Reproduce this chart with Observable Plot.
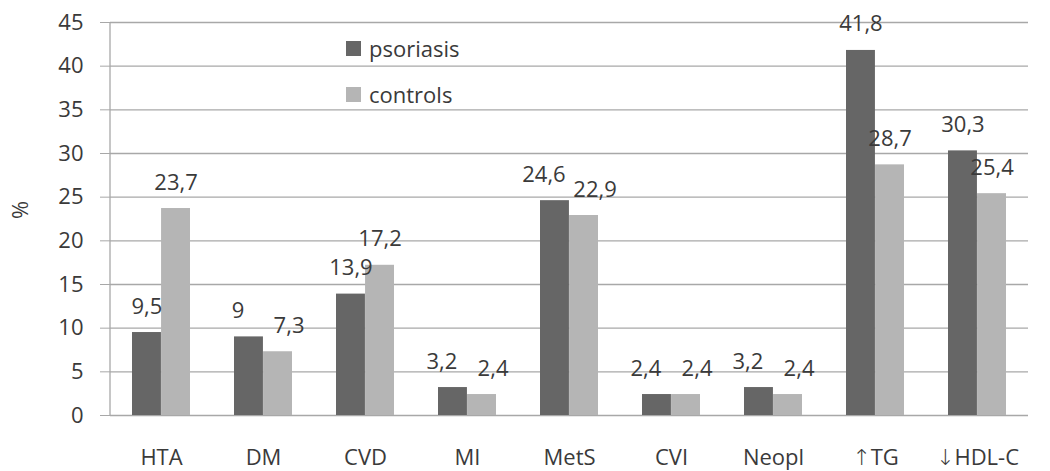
<!DOCTYPE html>
<html>
<head>
<meta charset="utf-8">
<script src="https://cdn.jsdelivr.net/npm/d3@7"></script>
<script src="https://cdn.jsdelivr.net/npm/@observablehq/plot@0.6"></script>
<style>
  html, body { margin: 0; padding: 0; background: #fff; }
  #wrap { position: relative; width: 1050px; height: 471px; font-family: "Open Sans", "Noto Sans", sans-serif; }
  .legend { position: absolute; left: 346px; top: 35px; font-size: 22px; color: #3a3a3a; }
  .legend .row { display: flex; align-items: center; height: 26px; }
  .legend .row + .row { margin-top: 20px; }
  .legend .sw { width: 15px; height: 15px; margin-right: 8px; display: inline-block; }
</style>
</head>
<body>
<div id="wrap"></div>
<script>
const categories = ["HTA", "DM", "CVD", "MI", "MetS", "CVI", "Neopl", "\u2191TG", "\u2193HDL-C"];
const psoriasis = [9.5, 9, 13.9, 3.2, 24.6, 2.4, 3.2, 41.8, 30.3];
const controls  = [23.7, 7.3, 17.2, 2.4, 22.9, 2.4, 2.4, 28.7, 25.4];
const seriesNames = ["psoriasis", "controls"];
const seriesColors = ["#666666", "#b5b5b5"];
const yTicks = [0, 5, 10, 15, 20, 25, 30, 35, 40, 45];
const yLabel = "%";

// label collision: two labels of a category at similar heights are pushed apart
const closeThreshold = 3;
const rowsP = categories.map((c, i) => ({cat: c, value: psoriasis[i], close: Math.abs(psoriasis[i] - controls[i]) < closeThreshold}));
const rowsC = categories.map((c, i) => ({cat: c, value: controls[i], close: Math.abs(psoriasis[i] - controls[i]) < closeThreshold}));
const fmt = v => String(v).replace(".", ",");

const textColor = "#3a3a3a";
const gridColor = "#a8a8a8";
const FS = 22;
const W = 1050, H = 471, mL = 110, mR = 22, mT = 22, mB = 56;
const step = (W - mL - mR) / categories.length;
const padIn = 0.43;
const half = step * (1 - padIn) / 2;
const push = 11;

const labelOpts = (side, isClose) => ({
  x: "cat", y: "value", text: d => fmt(d.value),
  filter: d => d.close === isClose,
  dx: side * (half / 2 + (isClose ? push : 0)),
  dy: -19, lineAnchor: "bottom", fill: textColor, fontSize: FS
});

const chart = Plot.plot({
  width: W,
  height: H,
  marginLeft: mL,
  marginRight: mR,
  marginTop: mT,
  marginBottom: mB,
  style: {fontFamily: "'Open Sans', 'Noto Sans', sans-serif", fontSize: FS + "px", color: textColor, background: "#fff", overflow: "visible"},
  x: {domain: categories, paddingInner: padIn, paddingOuter: padIn / 2, label: null},
  y: {domain: [0, 45], label: null},
  marks: [
    Plot.ruleY(yTicks, {stroke: gridColor, strokeWidth: 1.3}),
    Plot.axisY({ticks: yTicks, tickSize: 10, tickPadding: 17, stroke: gridColor, fill: textColor, fontSize: FS, tickFormat: d => String(d), label: null}),
    Plot.axisX({tickSize: 0, tickPadding: 34, fill: textColor, fontSize: FS, label: null}),
    Plot.text([yLabel], {frameAnchor: "left", dx: -90, rotate: -90, fill: textColor, fontSize: FS, text: d => d}),
    Plot.barY(rowsP, {x: "cat", y: "value", fill: seriesColors[0], insetRight: half}),
    Plot.barY(rowsC, {x: "cat", y: "value", fill: seriesColors[1], insetLeft: half}),
    Plot.text(rowsP, labelOpts(-1, false)),
    Plot.text(rowsP, labelOpts(-1, true)),
    Plot.text(rowsC, labelOpts(1, false)),
    Plot.text(rowsC, labelOpts(1, true))
  ]
});

// y-axis domain line at the left edge of the frame
d3.select(chart).append("line")
  .attr("x1", mL).attr("x2", mL)
  .attr("y1", mT).attr("y2", H - mB)
  .attr("stroke", gridColor).attr("stroke-width", 1.3);

// render arrow glyphs in a font with full-height arrows
d3.select(chart).selectAll("text").each(function() {
  const t = d3.select(this);
  const s = t.text();
  if (/^[\u2191\u2193]/.test(s) && t.selectAll("tspan").empty()) {
    t.text(null);
    t.append("tspan").style("font-family", "'DejaVu Sans'").style("font-weight", "200").text(s[0]);
    t.append("tspan").text(s.slice(1));
  }
});

const wrap = document.getElementById("wrap");
wrap.appendChild(chart);

const legend = document.createElement("div");
legend.className = "legend";
seriesNames.forEach((name, i) => {
  const row = document.createElement("div");
  row.className = "row";
  const sw = document.createElement("span");
  sw.className = "sw";
  sw.style.background = seriesColors[i];
  const label = document.createElement("span");
  label.textContent = name;
  row.appendChild(sw);
  row.appendChild(label);
  legend.appendChild(row);
});
wrap.appendChild(legend);
</script>
</body>
</html>
